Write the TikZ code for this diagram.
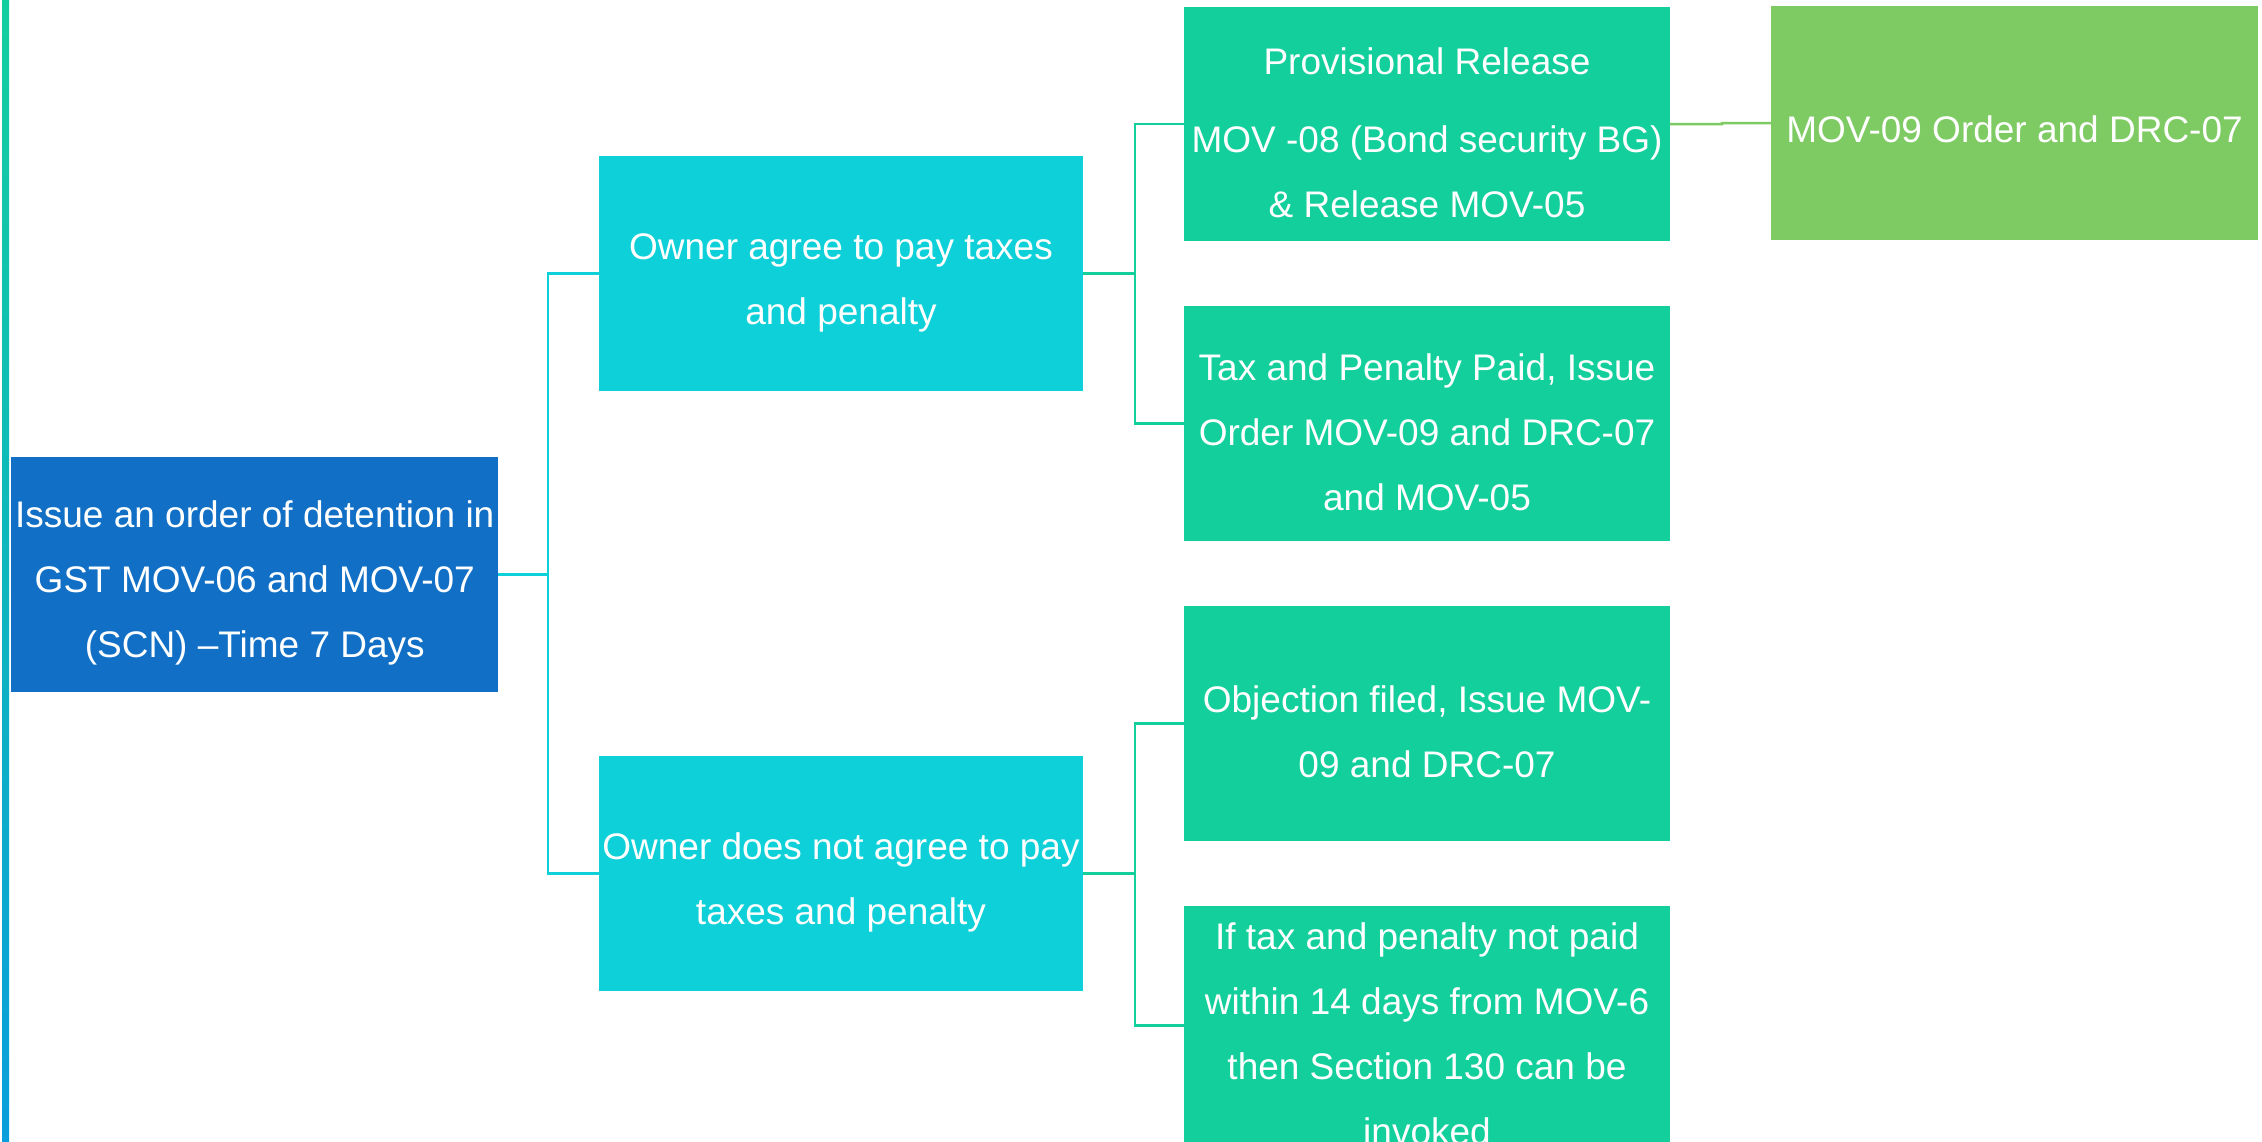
\documentclass[tikz,border=0pt]{standalone}
\usepackage{fontspec}
\setmainfont{Liberation Sans}
\definecolor{rootblue}{HTML}{1170C6}
\definecolor{midcyan}{HTML}{0ED0D8}
\definecolor{leafgreen}{HTML}{12CF9C}
\definecolor{lastgreen}{HTML}{7ECB63}
\definecolor{bartop}{HTML}{13CF9F}
\definecolor{barbot}{HTML}{0A9EDC}
\newcommand\tstrut[1]{\rule{0pt}{#1}}
\tikzset{
  box/.style={rectangle, fill=#1, minimum width=486pt, minimum height=235pt,
    inner sep=0pt, text=white, align=center,
    font=\fontsize{37pt}{65pt}\selectfont},
  link/.style={draw=#1, line width=2.5pt},
}
\begin{document}
\begin{tikzpicture}[x=1pt,y=-1pt]
\useasboundingbox (0,0) rectangle (2262,1141);
\clip (0,0) rectangle (2262,1141);
\fill[white] (0,0) rectangle (2262,1141);
\shade[top color=bartop, bottom color=barbot] (2,0) rectangle (9,1141);

\node[box=rootblue, minimum width=487pt] (root) at (254.75,574.5)
  {\tstrut{44pt}Issue an order of detention in\\GST MOV-06 and MOV-07\\(SCN) --Time 7 Days};

\node[box=midcyan, minimum width=484pt] (mA) at (841,273.5)
  {\tstrut{44pt}Owner agree to pay taxes\\and penalty};
\node[box=midcyan, minimum width=484pt] (mB) at (841,873.5)
  {\tstrut{44pt}Owner does not agree to pay\\taxes and penalty};

\node[box=leafgreen, minimum height=234pt] (r1) at (1427,124)
  {\tstrut{44pt}Provisional Release\\[13pt]MOV -08 (Bond security BG)\\\& Release MOV-05};
\node[box=leafgreen] (r2) at (1427,423.5)
  {\tstrut{44pt}Tax and Penalty Paid, Issue\\Order MOV-09 and DRC-07\\and MOV-05};
\node[box=leafgreen] (r3) at (1427,723.5)
  {\tstrut{44pt}Objection filed, Issue MOV-\\09 and DRC-07};
\node[box=leafgreen] (r4) at (1427,1025.5)
  {\tstrut{44pt}If tax and penalty not paid\\within 14 days from MOV-6\\then Section 130 can be\\invoked};

\node[box=lastgreen, minimum width=487pt, minimum height=234pt] (far) at (2014.5,123)
  {\tstrut{39pt}MOV-09 Order and DRC-07};

\coordinate (j1) at (548,574.5);
\coordinate (j2) at (1135,273.5);
\coordinate (j3) at (1135,873.5);
\coordinate (k) at (1722,124.2);

\draw[link=midcyan] (root.east) -- (j1);
\draw[link=midcyan] (j1) |- (mA.west);
\draw[link=midcyan] (j1) |- (mB.west);

\draw[link=leafgreen] (mA.east) -- (j2);
\draw[link=leafgreen] (j2) |- (r1.west);
\draw[link=leafgreen] (j2) |- (r2.west);
\draw[link=leafgreen] (mB.east) -- (j3);
\draw[link=leafgreen] (j3) |- (r3.west);
\draw[link=leafgreen] (j3) |- (r4.west);

\draw[link=lastgreen] (r1.east) -- (k) |- (far.west);
\end{tikzpicture}
\end{document}
